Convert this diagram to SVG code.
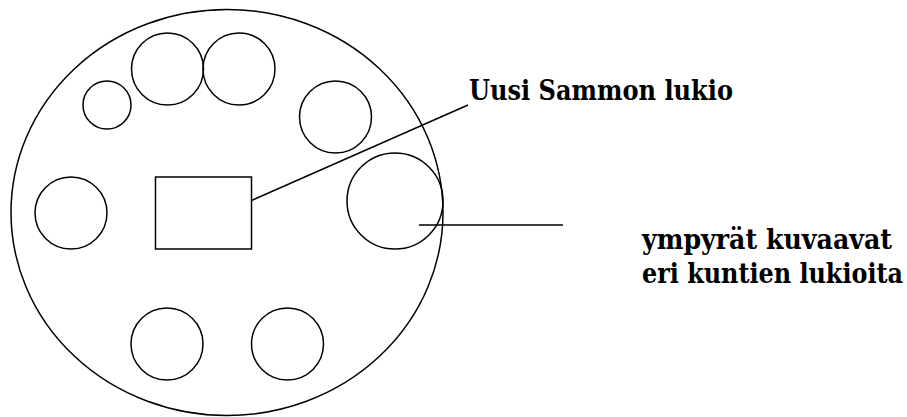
<svg xmlns="http://www.w3.org/2000/svg" width="907" height="417" viewBox="0 0 907 417">
<style>
.s{fill:none;stroke:#000;stroke-width:1.5}
.t{font-family:"DejaVu Serif",serif;font-weight:bold;font-size:28px;fill:#000}
</style>
<rect width="907" height="417" fill="#fff"/>
<g id="outer"><ellipse class="s" cx="227" cy="212.5" rx="216" ry="203"/></g>
<g id="c1"><circle class="s" cx="107" cy="105" r="24"/></g>
<g id="c2"><circle class="s" cx="167.5" cy="69" r="36"/></g>
<g id="c3"><circle class="s" cx="239" cy="69" r="36"/></g>
<g id="c4"><circle class="s" cx="335.5" cy="117" r="36"/></g>
<g id="c5"><circle class="s" cx="395" cy="201" r="48"/></g>
<g id="c6"><circle class="s" cx="71" cy="213" r="36"/></g>
<g id="c7"><circle class="s" cx="167" cy="344" r="36"/></g>
<g id="c8"><circle class="s" cx="287.5" cy="344" r="36"/></g>
<g id="school"><rect class="s" x="155.5" y="177" width="96" height="72"/></g>
<g id="connectors">
<line class="s" x1="251.5" y1="200.5" x2="468" y2="105"/>
<line class="s" x1="419" y1="225" x2="563" y2="225"/>
</g>
<g id="labels">
<text class="t" x="469" y="99.5" textLength="264" lengthAdjust="spacingAndGlyphs">Uusi Sammon lukio</text>
<text class="t" x="642" y="249" textLength="250" lengthAdjust="spacingAndGlyphs">ympyrät kuvaavat</text>
<text class="t" x="642" y="283" textLength="261" lengthAdjust="spacingAndGlyphs">eri kuntien lukioita</text>
</g>
</svg>
